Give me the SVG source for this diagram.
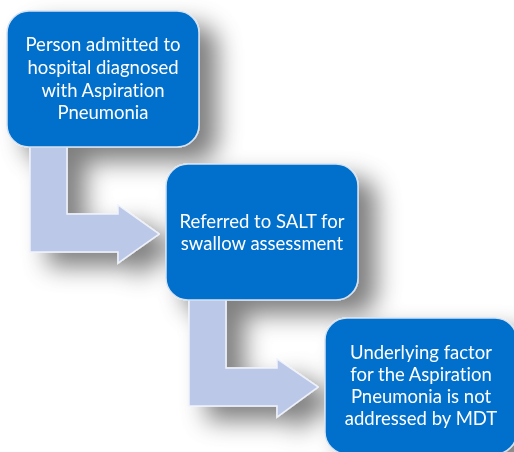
<svg xmlns="http://www.w3.org/2000/svg" width="514" height="452" viewBox="0 0 514 452">
<defs>
<filter id="sh" x="-20%" y="-20%" width="150%" height="150%">
<feGaussianBlur in="SourceAlpha" stdDeviation="12"/>
<feOffset dx="18" dy="14" result="b"/>
<feFlood flood-color="#000" flood-opacity="0.5"/>
<feComposite in2="b" operator="in" result="s"/>
<feMerge><feMergeNode in="s"/><feMergeNode in="SourceGraphic"/></feMerge>
</filter>
<style>
.box{fill:#0070CC;stroke:#D6E2F0;stroke-width:1.5}
.arr{fill:#BCC8E8;stroke:#EEF2FA;stroke-width:1.5}
.t{fill:#fff;font-family:Lato,"Open Sans",sans-serif;font-size:18.5px;text-anchor:middle;font-variant-ligatures:none}
</style>
</defs>
<rect width="514" height="452" fill="#fff"/>
<g filter="url(#sh)">
<g id="connectors">
<path class="arr" d="M30 140 L67 140 L67 214 L118 214 L118 205 L159 234 L118 263 L118 252 L30 252 Z"/>
<path class="arr" d="M189 294 L226 294 L226 368 L277 368 L277 359 L318 387 L277 417 L277 406 L189 406 Z"/>
</g>
<g id="n1">
<rect class="box" x="7" y="11" width="192" height="136" rx="22"/>
<text class="t" x="103" y="51">Person admitted to</text>
<text class="t" x="103" y="74">hospital diagnosed</text>
<text class="t" x="103" y="97">with Aspiration</text>
<text class="t" x="103" y="119">Pneumonia</text>
</g>
<g id="n2">
<rect class="box" x="166" y="164" width="192" height="136" rx="22"/>
<text class="t" x="262" y="228">Referred to SALT for</text>
<text class="t" x="262" y="250">swallow assessment</text>
</g>
<g id="n3">
<rect class="box" x="325" y="318" width="192" height="136" rx="22"/>
<text class="t" x="421" y="359">Underlying factor</text>
<text class="t" x="421" y="381">for the Aspiration</text>
<text class="t" x="421" y="403">Pneumonia is not</text>
<text class="t" x="421" y="425">addressed by MDT</text>
</g>
</g>
</svg>
